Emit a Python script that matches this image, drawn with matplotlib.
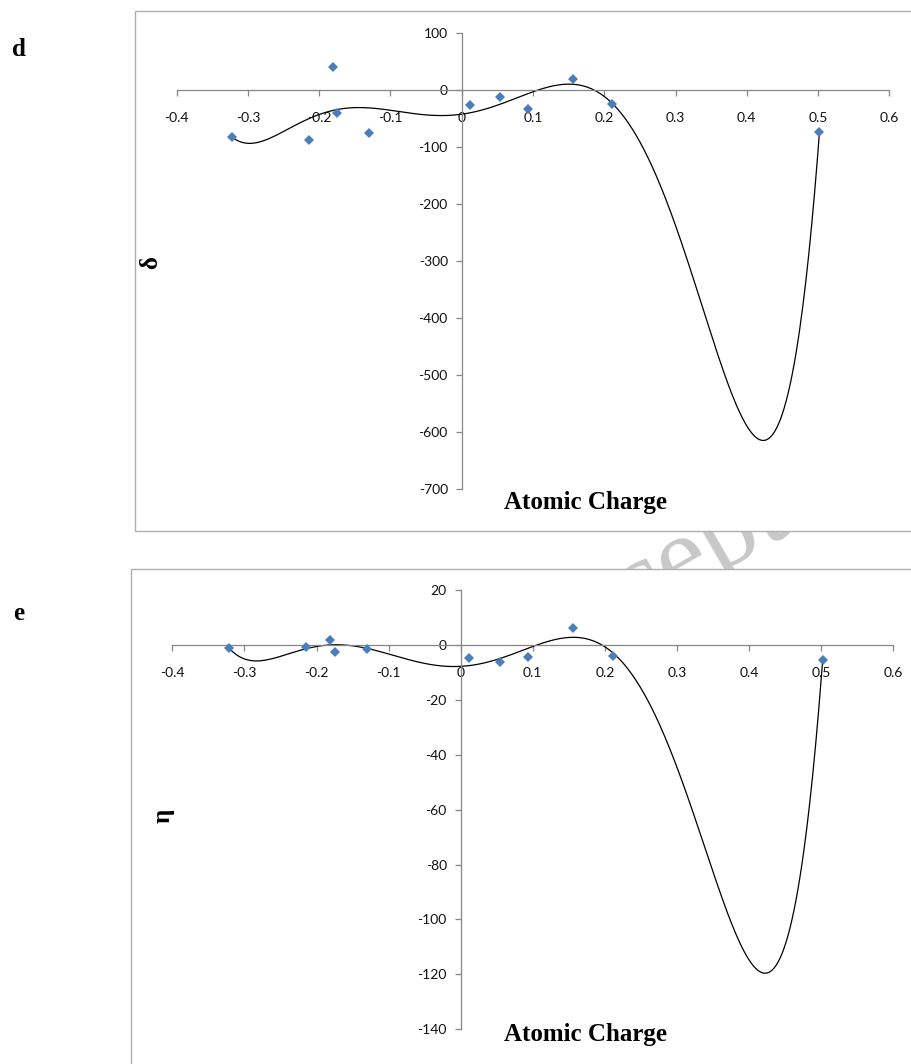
import matplotlib
matplotlib.use("Agg")
import matplotlib.pyplot as plt
import numpy as np
from matplotlib.patches import Rectangle

# atomic charges of the 11 sites, shared by both panels
charge = [-0.322, -0.215, -0.181, -0.175, -0.130, 0.011, 0.054, 0.093, 0.156, 0.211, 0.502]
# panel d: delta
delta = [-82, -88, 40, -40, -76, -27, -12, -33, 19, -25, -74]
# panel e: eta
eta = [-1.0, -0.7, 1.8, -2.7, -1.5, -4.7, -6.3, -4.5, 6.0, -3.9, -5.6]

x_ticks = [-0.4, -0.3, -0.2, -0.1, 0, 0.1, 0.2, 0.3, 0.4, 0.5, 0.6]
d_ticks = [100, 0, -100, -200, -300, -400, -500, -600, -700]
e_ticks = [20, 0, -20, -40, -60, -80, -100, -120, -140]

POLY_ORDER = 6
W, H = 911, 1064
MARKER_BLUE = "#4a7ebb"
AXIS_GREY = "#868686"
SERIF = "Liberation Serif"
SANS = "Lato"


def fx(px):
    return px / W


def fy(py):
    return 1 - py / H


def panel(fig, box, frame, x, y, yticks, letter, letter_xy, ylabel, ylabel_xy, xlabel_xy):
    left, right, top, bottom = box
    # white chart area with a thin grey border
    fl, ft, fb = frame
    fig.patches.append(Rectangle((fx(fl), fy(fb)), 1.2, fy(ft) - fy(fb),
                                 transform=fig.transFigure, facecolor="white",
                                 edgecolor="#b0b0b0", lw=1.0, zorder=-1))

    ax = fig.add_axes([fx(left), fy(bottom), (right - left) / W, (bottom - top) / H])
    ax.patch.set_alpha(0)
    ax.set_xlim(x_ticks[0], x_ticks[-1])
    ax.set_ylim(yticks[-1], yticks[0])
    for side in ("top", "right"):
        ax.spines[side].set_visible(False)
    ax.spines["left"].set_position(("data", 0))
    ax.spines["bottom"].set_position(("data", 0))
    for side in ("left", "bottom"):
        ax.spines[side].set_color(AXIS_GREY)
        ax.spines[side].set_linewidth(0.9)

    ax.set_xticks(x_ticks)
    ax.set_xticklabels([f"{v:g}" for v in x_ticks])
    ax.set_yticks(yticks)
    ax.set_yticklabels([f"{v:g}" for v in yticks])
    ax.tick_params(axis="x", direction="out", length=4, width=0.9, color=AXIS_GREY,
                   pad=12, labelsize=10)
    ax.tick_params(axis="y", direction="out", length=4, width=0.9, color=AXIS_GREY,
                   pad=6, labelsize=10)
    for lab in ax.get_xticklabels() + ax.get_yticklabels():
        lab.set_fontfamily(SANS)
        lab.set_color("#111111")

    # polynomial trendline over the data span
    coef = np.polyfit(x, y, POLY_ORDER)
    xs = np.linspace(min(x), max(x), 600)
    ax.plot(xs, np.polyval(coef, xs), color="black", lw=0.9, zorder=2)
    ax.plot(x, y, linestyle="none", marker="D", markersize=5.5, color=MARKER_BLUE,
            markeredgewidth=0, zorder=3, clip_on=False)

    fig.text(fx(letter_xy[0]), fy(letter_xy[1]), letter, family=SERIF, weight="bold",
             fontsize=18, ha="center", va="center")
    fig.text(fx(ylabel_xy[0]), fy(ylabel_xy[1]), ylabel, family=SERIF, weight="bold",
             fontsize=18, ha="center", va="center", rotation=90)
    fig.text(fx(xlabel_xy[0]), fy(xlabel_xy[1]), "Atomic Charge", family=SERIF,
             weight="bold", fontsize=18, ha="center", va="center")
    return ax


fig = plt.figure(figsize=(W / 100, H / 100), dpi=100)

# faint watermark sitting behind the chart areas
fig.text(fx(690), fy(560), "Accepted", family=SERIF, fontsize=80, color="#c8c8c8",
         rotation=30, ha="center", va="center", zorder=-5)

panel(fig, (176.7, 889.3, 32.7, 489.0), (135, 11, 531), charge, delta, d_ticks,
      "d", (19, 50), "δ", (151, 263), (585, 503))
panel(fig, (172.3, 893.3, 590.0, 1029.3), (131, 569, 1080), charge, eta, e_ticks,
      "e", (19, 614), "η", (163, 816), (585, 1034))

fig.savefig("out.png", dpi=100)
